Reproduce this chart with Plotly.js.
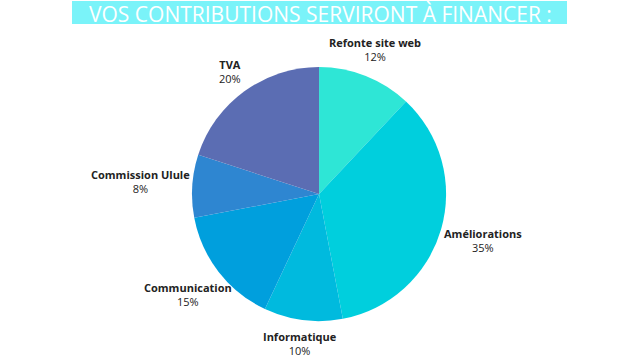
<!DOCTYPE html>
<html><head><meta charset="utf-8">
<script src="https://cdn.plot.ly/plotly-3.0.1.min.js"></script>
<style>html,body{margin:0;padding:0;background:#fff;}#chart{width:640px;height:360px;}</style>
</head><body><div id="chart"></div>
<script>
const categories = ["Refonte site web", "Améliorations", "Informatique", "Communication", "Commission Ulule", "TVA"];
const values = [12, 35, 10, 15, 8, 20];
const colors = ["#2EE6D6", "#00CFDD", "#00BADE", "#009FDD", "#2E86D1", "#5B6DB3"];
const titleText = "VOS CONTRIBUTIONS SERVIRONT À FINANCER :";
// label anchor positions (paper coords) for each category
const labelPos = [[0.586, 0.862], [0.755, 0.331], [0.469, 0.045], [0.294, 0.181], [0.219, 0.495], [0.359, 0.802]];

const trace = {
  type: "pie",
  labels: categories,
  values: values,
  sort: false,
  direction: "clockwise",
  rotation: 0,
  marker: {colors: colors, line: {width: 0}},
  textinfo: "none",
  hoverinfo: "label+percent",
  domain: {x: [0.3, 0.697], y: [0.108, 0.814]},
  showlegend: false
};

const annotations = categories.map((c, i) => ({
  xref: "paper", yref: "paper",
  x: labelPos[i][0], y: labelPos[i][1],
  xanchor: "center", yanchor: "middle",
  text: "<b>" + c + "</b><br>" + values[i] + "%",
  showarrow: false,
  align: "center",
  font: {family: "Open Sans, sans-serif", size: 11, color: "#222"}
}));
annotations.push({
  xref: "paper", yref: "paper", x: 0.5, y: 1 - 14.5/360,
  xanchor: "center", yanchor: "middle",
  text: titleText, showarrow: false,
  font: {family: "Open Sans, sans-serif", size: 21, color: "#ffffff"}
});

const layout = {
  width: 640, height: 360,
  margin: {l: 0, r: 0, t: 0, b: 0},
  paper_bgcolor: "#ffffff",
  shapes: [{type: "rect", xref: "paper", yref: "paper", x0: 72/640, x1: 567/640, y0: 1 - 24/360, y1: 1 - 1/360, fillcolor: "#7AF3F9", line: {width: 0}, layer: "below"}],
  annotations: annotations
};

Plotly.newPlot("chart", [trace], layout, {displayModeBar: false, staticPlot: true});
</script></body></html>
